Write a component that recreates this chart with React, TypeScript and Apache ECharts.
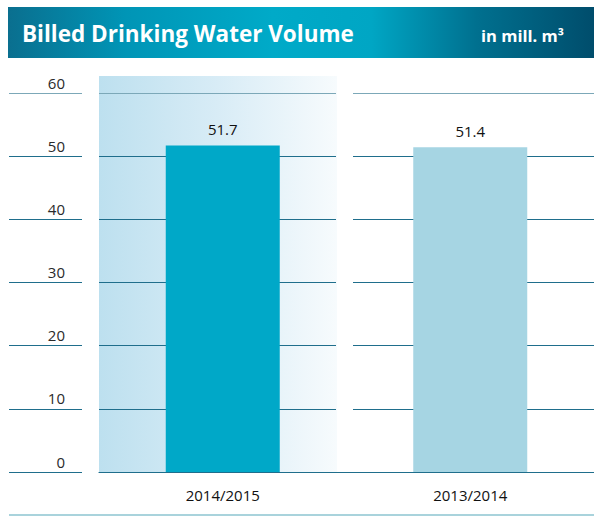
import React, { useEffect, useRef } from "react";
import * as echarts from "echarts";

const title = "Billed Drinking Water Volume";
const unit = "in mill. m³";
const categories = ["2014/2015", "2013/2014"];
const values = [51.7, 51.4];
const barColors = ["#00a8c8", "#a6d5e3"];
const yMin = 0;
const yMax = 60;
const yInterval = 10;

const FONT = "Open Sans";
const gridDark = "#1f6e8c";
const gridLight = "#7ca8b8";
const lineColors = ["#1f6e8c", "#1f6e8c", "#1f6e8c", "#1f6e8c", "#1f6e8c", "#1f6e8c", gridLight];

export default function App() {
  const ref = useRef<HTMLDivElement>(null);
  useEffect(() => {
    if (!ref.current) return;
    const chart = echarts.init(ref.current, null, { renderer: "svg" });
    const top = 93;
    const height = 379;
    const grids = [
      { left: 9, width: 73, top, height },
      { left: 99, width: 237, top, height },
      { left: 353, width: 241, top, height },
      { left: 99, width: 495, top, height },
    ];
    const yAxisBase = { type: "value", min: yMin, max: yMax, interval: yInterval };
    const splitY = (gi: number, labels: boolean) => ({
      ...yAxisBase,
      gridIndex: gi,
      axisLine: { show: false },
      axisTick: { show: false },
      axisLabel: labels
        ? {
            show: true,
            inside: true,
            align: "right",
            verticalAlign: "bottom",
            margin: 56,
            padding: [0, 0, 3, 0],
            fontFamily: FONT,
            fontSize: 15,
            color: "#2a2a2a",
          }
        : { show: false },
      splitLine: { show: true, lineStyle: { color: lineColors, width: 1.2 } },
    });
    const option: any = {
      animation: false,
      backgroundColor: "#ffffff",
      grid: grids,
      xAxis: [
        { type: "category", gridIndex: 0, show: false, data: [""] },
        { type: "category", gridIndex: 1, show: false, data: [""] },
        { type: "category", gridIndex: 2, show: false, data: [""] },
        {
          type: "category",
          gridIndex: 3,
          data: categories,
          axisLine: { show: true, lineStyle: { color: gridDark, width: 1.2 } },
          axisTick: { show: false },
          axisLabel: { fontFamily: FONT, fontSize: 15, color: "#111111", margin: 15 },
          splitLine: { show: false },
        },
      ],
      yAxis: [splitY(0, true), splitY(1, false), splitY(2, false), { ...yAxisBase, gridIndex: 3, show: false }],
      series: [
        {
          type: "bar",
          xAxisIndex: 3,
          yAxisIndex: 3,
          barWidth: 114,
          z: 5,
          data: values.map((v, i) => ({ value: v, itemStyle: { color: barColors[i] } })),
          label: {
            show: true,
            position: "top",
            distance: 9,
            fontFamily: FONT,
            fontSize: 15,
            color: "#111111",
            formatter: (p: any) => p.value.toFixed(1),
          },
        },
      ],
      graphic: [
        {
          type: "rect",
          z: -10,
          shape: { x: 99, y: 76, width: 238, height: 396 },
          style: {
            fill: new echarts.graphic.LinearGradient(0, 0, 1, 0, [
              { offset: 0, color: "#bde0ef" },
              { offset: 0.5, color: "#d8ecf6" },
              { offset: 1, color: "#f7fbfd" },
            ]),
          },
        },
        {
          type: "rect",
          z: 10,
          shape: { x: 8, y: 7, width: 586, height: 51 },
          style: {
            fill: new echarts.graphic.LinearGradient(0, 0, 1, 0, [
              { offset: 0, color: "#0a6f8f" },
              { offset: 0.2, color: "#0095b6" },
              { offset: 0.45, color: "#00aac8" },
              { offset: 0.62, color: "#00a6c4" },
              { offset: 0.8, color: "#00708f" },
              { offset: 1, color: "#004d6c" },
            ]),
          },
        },
        {
          type: "text",
          z: 11,
          x: 22,
          y: 33,
          style: {
            text: title,
            fill: "#ffffff",
            font: `bold 22.5px "${FONT}"`,
            verticalAlign: "middle",
            align: "left",
          },
        },
        {
          type: "text",
          z: 11,
          x: 564,
          y: 35,
          style: {
            text: unit,
            fill: "#ffffff",
            font: `bold 16.5px "${FONT}"`,
            verticalAlign: "middle",
            align: "right",
          },
        },
        {
          type: "line",
          z: 10,
          shape: { x1: 9, y1: 515, x2: 594, y2: 515 },
          style: { stroke: "#8cc4d0", lineWidth: 1.5 },
        },
      ],
    };
    chart.setOption(option);
    return () => chart.dispose();
  }, []);
  return <div ref={ref} style={{ position: "absolute", left: 0, top: 0, width: 594, height: 516 }} />;
}
